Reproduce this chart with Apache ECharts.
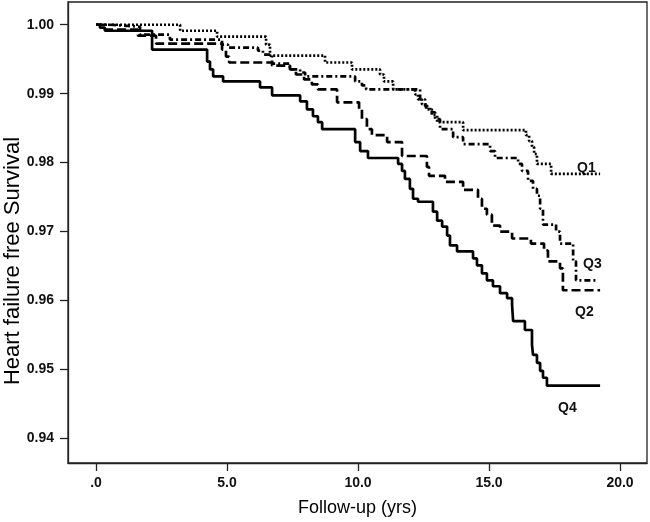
<!DOCTYPE html>
<html>
<head>
<meta charset="utf-8">
<script src="https://cdn.jsdelivr.net/npm/echarts@6/dist/echarts.min.js"></script>
<style>html,body{margin:0;padding:0;background:#fff}#c{width:650px;height:522px}</style>
</head>
<body>
<div id="c"></div>
<script>
// Kaplan-Meier step points: time (yrs) at which survival drops, and survival after the drop
const q1Time = [0, 3.21, 4.62, 6.49, 6.64, 8.74, 9.77, 10.84, 10.99, 11.34, 12.18, 12.29, 12.44, 12.60, 12.82, 13.02, 14.01, 16.41, 16.53, 16.64, 16.72, 16.83, 17.37, 19.24];
const q1Surv = [1.0, 0.99913, 0.99827, 0.99711, 0.99553, 0.99452, 0.99351, 0.99278, 0.99177, 0.99062, 0.98990, 0.98918, 0.98846, 0.98773, 0.98687, 0.98586, 0.98470, 0.98398, 0.98312, 0.98225, 0.98124, 0.97980, 0.97835, 0.97835];

const q2Time = [0, 0.34, 1.60, 2.29, 4.81, 4.96, 5.08, 6.72, 7.40, 7.63, 7.94, 8.24, 8.47, 9.20, 10.04, 10.15, 10.34, 10.53, 11.11, 11.68, 12.63, 12.71, 13.32, 14.01, 14.58, 14.73, 14.92, 15.11, 15.42, 15.88, 16.60, 17.10, 17.25, 17.71, 17.82, 19.24];
const q2Surv = [1.0, 0.99928, 0.99841, 0.99726, 0.99639, 0.99538, 0.99452, 0.99408, 0.99351, 0.99278, 0.99206, 0.99134, 0.99062, 0.98874, 0.98773, 0.98629, 0.98485, 0.98398, 0.98297, 0.98095, 0.97937, 0.97807, 0.97720, 0.97605, 0.97475, 0.97330, 0.97244, 0.97085, 0.96999, 0.96898, 0.96825, 0.96724, 0.96566, 0.96465, 0.96147, 0.96147];

const q3Time = [0, 0.53, 1.68, 2.82, 4.81, 5.04, 6.18, 6.37, 6.72, 7.40, 7.79, 7.98, 9.89, 10.15, 10.31, 12.37, 12.56, 12.75, 12.94, 13.13, 13.63, 14.01, 15.04, 15.23, 16.11, 16.26, 16.49, 16.68, 16.83, 16.95, 17.06, 17.56, 17.71, 18.21, 18.32, 19.12];
const q3Surv = [1.0, 0.99971, 0.99856, 0.99784, 0.99711, 0.99668, 0.99625, 0.99567, 0.99437, 0.99351, 0.99307, 0.99250, 0.99177, 0.99120, 0.99062, 0.98918, 0.98817, 0.98730, 0.98629, 0.98485, 0.98369, 0.98268, 0.98167, 0.98066, 0.97980, 0.97879, 0.97734, 0.97619, 0.97518, 0.97330, 0.97100, 0.96999, 0.96825, 0.96566, 0.96291, 0.96291];

const q4Time = [0, 0.15, 0.34, 2.14, 4.24, 4.35, 4.47, 4.85, 6.26, 6.72, 7.79, 8.05, 8.28, 8.47, 8.63, 9.89, 10.08, 10.38, 11.53, 11.68, 11.79, 11.98, 12.10, 12.29, 12.86, 13.02, 13.21, 13.40, 13.51, 13.78, 14.39, 14.54, 14.73, 14.92, 15.15, 15.42, 15.69, 15.88, 15.92, 16.37, 16.64, 16.68, 16.83, 16.95, 17.06, 17.21, 19.24];
const q4Surv = [1.0, 0.99957, 0.99913, 0.99639, 0.99466, 0.99351, 0.99250, 0.99177, 0.99091, 0.98975, 0.98889, 0.98773, 0.98672, 0.98586, 0.98485, 0.98297, 0.98167, 0.98066, 0.97980, 0.97879, 0.97763, 0.97619, 0.97475, 0.97431, 0.97287, 0.97157, 0.97071, 0.96941, 0.96797, 0.96710, 0.96609, 0.96508, 0.96392, 0.96291, 0.96205, 0.96104, 0.96032, 0.95931, 0.95700, 0.95570, 0.95354, 0.95209, 0.95094, 0.94978, 0.94877, 0.94762, 0.94762];

const xTicks = [0, 5, 10, 15, 20];
const yTicks = [0.94, 0.95, 0.96, 0.97, 0.98, 0.99, 1.00];
const groupNames = ['Q1', 'Q2', 'Q3', 'Q4'];
const xTitle = 'Follow-up (yrs)';
const yTitle = 'Heart failure free Survival';

const zip = (t, s) => t.map((v, i) => [v, s[i]]);
const FONT = '"Liberation Sans", Arial, sans-serif';

const chart = echarts.init(document.getElementById('c'), null, {renderer: 'canvas'});
const mk = (name, t, s, type) => ({
  name, type: 'line', step: 'end', showSymbol: false, silent: true,
  data: zip(t, s),
  lineStyle: {color: '#000', width: 2.7, type: type, cap: 'butt'}
});
chart.setOption({
  animation: false,
  backgroundColor: '#fff',
  grid: {left: 68, right: 3, top: 2, bottom: 56, show: true, borderColor: '#222', borderWidth: 1.3, backgroundColor: 'transparent'},
  xAxis: {
    type: 'value', min: -1.07, max: 21.03,
    name: xTitle, nameLocation: 'middle', nameGap: 36,
    nameTextStyle: {fontFamily: FONT, fontSize: 18, color: '#000'},
    axisLine: {show: true, onZero: false, lineStyle: {color: '#222', width: 1.3}},
    axisTick: {show: true, length: 8, customValues: xTicks, lineStyle: {color: '#222', width: 1.3}},
    axisLabel: {customValues: xTicks, fontFamily: FONT, fontSize: 14, fontWeight: 'bold', color: '#111', margin: 13,
      formatter: v => v === 0 ? '.0' : v.toFixed(1)},
    splitLine: {show: false}
  },
  yAxis: {
    type: 'value', min: 0.9364, max: 1.0033,
    axisLine: {show: true, onZero: false, lineStyle: {color: '#222', width: 1.3}},
    axisTick: {show: true, length: 8, customValues: yTicks, lineStyle: {color: '#222', width: 1.3}},
    axisLabel: {customValues: yTicks, fontFamily: FONT, fontSize: 14, fontWeight: 'bold', color: '#111', margin: 14,
      formatter: v => v.toFixed(2)},
    splitLine: {show: false}
  },
  series: [
    mk(groupNames[0], q1Time, q1Surv, [2, 2]),
    mk(groupNames[1], q2Time, q2Surv, [9, 4]),
    mk(groupNames[2], q3Time, q3Surv, [6, 3, 2, 3]),
    mk(groupNames[3], q4Time, q4Surv, 'solid')
  ],
  graphic: [
    {type: 'text', x: 13, y: 261, rotation: Math.PI / 2,
      style: {text: yTitle, font: '22px ' + FONT, fill: '#000', align: 'center', verticalAlign: 'middle'}},
    {type: 'text', left: 577, top: 161, style: {text: groupNames[0], font: 'bold 14px ' + FONT, fill: '#111'}},
    {type: 'text', left: 583, top: 257, style: {text: groupNames[2], font: 'bold 14px ' + FONT, fill: '#111'}},
    {type: 'text', left: 575, top: 305, style: {text: groupNames[1], font: 'bold 14px ' + FONT, fill: '#111'}},
    {type: 'text', left: 558, top: 401, style: {text: groupNames[3], font: 'bold 14px ' + FONT, fill: '#111'}}
  ]
});
</script>
</body>
</html>
